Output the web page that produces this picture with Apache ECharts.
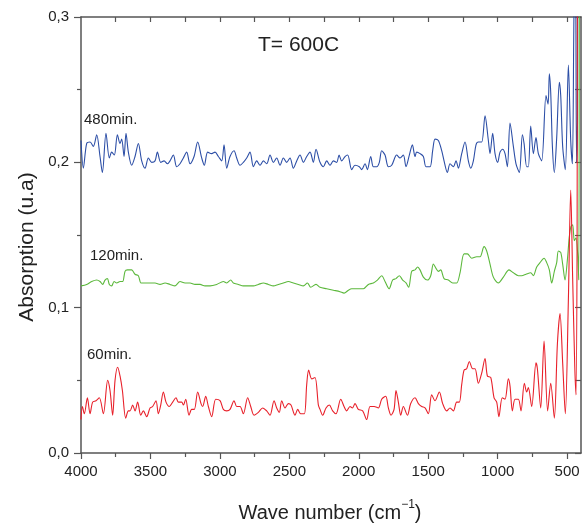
<!DOCTYPE html>
<html><head><meta charset="utf-8">
<script src="https://cdn.jsdelivr.net/npm/echarts@6/dist/echarts.min.js"></script>
<style>html,body{margin:0;padding:0;background:#fff}#c{width:588px;height:524px}</style>
</head><body><div id="c"></div>
<script>
// ---- data (wave number cm^-1, absorption u.a) ----
const seriesNames = ['480min.', '120min.', '60min.'];
const xTickLabels = [500, 1000, 1500, 2000, 2500, 3000, 3500, 4000];
const xMinorTicks = [750, 1250, 1750, 2250, 2750, 3250, 3750];
const yTickLabels = [0, 0.1, 0.2, 0.3];

const blue480 = [[4000,0.215],[3983,0.196],[3959,0.213],[3935,0.214],[3911,0.211],[3887,0.219],[3863,0.204],[3846,0.193],[3820,0.220],[3796,0.203],[3779,0.207],[3760,0.205],[3738,0.219],[3719,0.213],[3707,0.216],[3690,0.204],[3676,0.220],[3659,0.207],[3635,0.198],[3611,0.204],[3587,0.213],[3563,0.201],[3539,0.196],[3515,0.203],[3491,0.200],[3467,0.201],[3450,0.207],[3426,0.200],[3402,0.201],[3378,0.199],[3359,0.201],[3335,0.205],[3311,0.197],[3287,0.199],[3263,0.203],[3239,0.207],[3215,0.199],[3186,0.204],[3160,0.214],[3131,0.203],[3112,0.198],[3088,0.207],[3059,0.206],[3035,0.207],[3011,0.204],[2987,0.201],[2970,0.212],[2951,0.196],[2927,0.204],[2898,0.208],[2879,0.203],[2855,0.198],[2831,0.200],[2807,0.203],[2783,0.207],[2759,0.197],[2735,0.201],[2711,0.198],[2687,0.201],[2663,0.199],[2639,0.205],[2615,0.200],[2591,0.203],[2567,0.198],[2543,0.203],[2519,0.200],[2495,0.203],[2471,0.196],[2447,0.201],[2423,0.205],[2399,0.200],[2375,0.204],[2351,0.207],[2327,0.200],[2308,0.209],
[2279,0.200],[2255,0.197],[2231,0.201],[2207,0.198],[2183,0.201],[2159,0.200],[2142,0.205],[2123,0.201],[2099,0.204],[2080,0.205],[2051,0.195],[2027,0.198],[1996,0.197],[1979,0.195],[1955,0.199],[1938,0.195],[1914,0.204],[1895,0.197],[1871,0.197],[1852,0.200],[1835,0.208],[1811,0.205],[1787,0.197],[1763,0.198],[1727,0.205],[1703,0.203],[1679,0.205],[1660,0.197],[1636,0.205],[1614,0.212],[1595,0.204],[1583,0.207],[1559,0.206],[1535,0.204],[1516,0.197],[1487,0.197],[1468,0.208],[1451,0.216],[1427,0.215],[1403,0.208],[1386,0.201],[1362,0.193],[1343,0.199],[1319,0.197],[1300,0.201],[1283,0.196],[1259,0.206],[1235,0.214],[1211,0.201],[1194,0.196],[1175,0.201],[1156,0.212],[1139,0.214],[1115,0.214],[1091,0.232],[1067,0.215],[1055,0.206],[1036,0.220],[1019,0.206],[1000,0.200],[983,0.207],[964,0.209],[947,0.206],[930,0.197],[911,0.227],[887,0.211],[868,0.199],[844,0.193],[822,0.219],[810,0.213],[791,0.197],[779,0.197],[762,0.225],[743,0.206],[724,0.217],[707,0.206],[683,0.201],[652,0.246],[637,0.240],[628,0.261],[618,0.248],[606,0.211],[592,0.193],[575,0.217],[556,0.255],[546,0.246],[532,0.211],[513,0.195],[491,0.267],[474,0.215],[462,0.199],[452,0.290],[445,0.350],[438,0.320],[432,0.200],[425,0.230],[418,0.500],[400,0.500]];

const green120 = [[4000,0.115],[3959,0.116],[3923,0.118],[3887,0.119],[3863,0.118],[3844,0.116],[3827,0.119],[3810,0.120],[3796,0.116],[3779,0.115],[3762,0.118],[3743,0.117],[3719,0.118],[3700,0.118],[3683,0.125],[3666,0.126],[3635,0.126],[3611,0.123],[3587,0.122],[3568,0.117],[3539,0.117],[3503,0.117],[3467,0.117],[3431,0.116],[3395,0.117],[3359,0.116],[3323,0.115],[3287,0.118],[3251,0.117],[3215,0.117],[3179,0.116],[3143,0.116],[3107,0.115],[3071,0.115],[3023,0.116],[2975,0.118],[2951,0.117],[2922,0.119],[2903,0.117],[2867,0.116],[2831,0.115],[2795,0.115],[2759,0.115],[2723,0.116],[2687,0.117],[2651,0.116],[2615,0.115],[2579,0.116],[2543,0.117],[2507,0.118],[2471,0.117],[2435,0.116],[2399,0.115],[2370,0.117],[2346,0.114],[2308,0.116],
[2279,0.114],[2231,0.113],[2183,0.112],[2135,0.111],[2106,0.110],[2075,0.112],[2051,0.113],[2015,0.113],[1967,0.113],[1931,0.116],[1895,0.117],[1866,0.119],[1835,0.122],[1811,0.118],[1782,0.113],[1756,0.119],[1732,0.120],[1708,0.122],[1684,0.119],[1660,0.117],[1641,0.114],[1619,0.125],[1595,0.126],[1576,0.128],[1559,0.126],[1535,0.121],[1506,0.119],[1482,0.122],[1463,0.130],[1444,0.127],[1427,0.125],[1410,0.126],[1386,0.120],[1355,0.119],[1324,0.117],[1295,0.117],[1271,0.124],[1242,0.137],[1218,0.137],[1187,0.134],[1151,0.135],[1127,0.135],[1098,0.142],[1079,0.139],[1055,0.130],[1031,0.121],[995,0.117],[959,0.121],[918,0.126],[887,0.124],[851,0.122],[827,0.122],[796,0.123],[762,0.124],[743,0.122],[719,0.128],[695,0.131],[666,0.134],[647,0.131],[628,0.126],[611,0.117],[592,0.125],[575,0.131],[563,0.139],[546,0.138],[532,0.130],[515,0.119],[498,0.133],[484,0.149],[472,0.156],[460,0.157],[448,0.146],[436,0.148],[424,0.137],[416,0.119],[408,0.500],[400,0.500]];

const red60 = [[4000,0.023],[3990,0.032],[3976,0.027],[3954,0.038],[3935,0.027],[3916,0.035],[3892,0.036],[3868,0.038],[3839,0.027],[3808,0.050],[3791,0.043],[3772,0.026],[3755,0.050],[3736,0.059],[3719,0.053],[3702,0.043],[3678,0.024],[3659,0.029],[3647,0.029],[3628,0.033],[3611,0.029],[3592,0.035],[3570,0.026],[3551,0.029],[3527,0.025],[3503,0.031],[3484,0.032],[3460,0.036],[3443,0.027],[3426,0.033],[3407,0.042],[3388,0.035],[3364,0.032],[3340,0.035],[3316,0.038],[3299,0.035],[3275,0.035],[3263,0.033],[3246,0.037],[3222,0.026],[3203,0.030],[3184,0.030],[3160,0.042],[3136,0.034],[3124,0.032],[3102,0.039],[3083,0.032],[3059,0.025],[3030,0.037],[2999,0.036],[2975,0.030],[2951,0.029],[2927,0.030],[2898,0.036],[2879,0.032],[2855,0.032],[2831,0.027],[2800,0.038],[2778,0.032],[2754,0.026],[2723,0.028],[2692,0.031],[2663,0.029],[2639,0.026],[2610,0.036],[2591,0.031],[2572,0.028],[2555,0.036],[2531,0.031],[2507,0.034],[2488,0.033],[2459,0.026],[2440,0.030],[2418,0.027],[2392,0.027],[2375,0.047],[2361,0.057],[2339,0.051],[2315,0.052],[2291,0.033],
[2279,0.030],[2260,0.026],[2236,0.031],[2212,0.033],[2188,0.029],[2164,0.027],[2130,0.037],[2106,0.032],[2087,0.029],[2063,0.032],[2046,0.031],[2027,0.034],[2003,0.030],[1972,0.029],[1943,0.023],[1919,0.032],[1890,0.032],[1859,0.031],[1835,0.037],[1806,0.039],[1787,0.031],[1768,0.026],[1746,0.030],[1732,0.043],[1715,0.035],[1698,0.026],[1679,0.032],[1650,0.026],[1626,0.034],[1595,0.038],[1571,0.034],[1547,0.032],[1523,0.031],[1499,0.027],[1475,0.040],[1451,0.036],[1420,0.042],[1396,0.034],[1367,0.029],[1343,0.031],[1319,0.029],[1295,0.035],[1276,0.035],[1259,0.047],[1242,0.057],[1223,0.058],[1204,0.063],[1180,0.058],[1163,0.058],[1139,0.048],[1115,0.055],[1091,0.065],[1074,0.053],[1050,0.052],[1026,0.038],[1007,0.035],[991,0.025],[967,0.038],[947,0.037],[923,0.051],[911,0.046],[894,0.029],[875,0.037],[851,0.037],[832,0.029],[808,0.048],[791,0.042],[779,0.045],[755,0.032],[724,0.062],[714,0.058],[690,0.031],[666,0.077],[640,0.029],[618,0.048],[592,0.024],[570,0.075],[551,0.096],[532,0.062],[513,0.027],[491,0.105],[474,0.181],[460,0.120],[445,0.060],[436,0.040],[428,0.150],[420,0.500],[400,0.500]];

// ---- chart ----
const FONT = '"Liberation Sans", Arial, sans-serif';
const AX = '#555';
const chart = echarts.init(document.getElementById('c'), null, {renderer: 'canvas'});
const xBase = {type: 'value', min: 400, max: 4000, inverse: true, splitLine: {show: false}};
const yBase = {type: 'value', min: 0, max: 0.3, splitLine: {show: false}};
chart.setOption({
  animation: false,
  backgroundColor: '#fff',
  grid: {left: 81, top: 17, right: 7, bottom: 71, containLabel: false},
  xAxis: [
    Object.assign({}, xBase, {
      position: 'bottom',
      axisLine: {show: true, lineStyle: {color: AX, width: 1.5}},
      axisTick: {show: true, customValues: xTickLabels, length: 6, lineStyle: {color: AX, width: 1.2}},
      axisLabel: {show: true, customValues: xTickLabels, margin: 11, fontSize: 15, color: '#222', fontFamily: FONT,
        formatter: v => String(Math.round(v))}
    }),
    Object.assign({}, xBase, {
      position: 'bottom',
      axisLine: {show: false},
      axisTick: {show: true, customValues: xMinorTicks, length: 4, lineStyle: {color: AX, width: 1.2}},
      axisLabel: {show: false}
    }),
    Object.assign({}, xBase, {
      position: 'top',
      axisLine: {show: true, lineStyle: {color: AX, width: 1.5}},
      axisTick: {show: true, inside: true, customValues: xMinorTicks.concat(xTickLabels.slice(0, 7)), length: 5, lineStyle: {color: AX, width: 1.2}},
      axisLabel: {show: false}
    })
  ],
  yAxis: [
    Object.assign({}, yBase, {
      position: 'left', interval: 0.1,
      axisLine: {show: true, lineStyle: {color: AX, width: 1.5}},
      axisTick: {show: true, length: 7, lineStyle: {color: AX, width: 1.2}},
      minorTick: {show: true, splitNumber: 2, length: 4, lineStyle: {color: AX, width: 1.2}},
      axisLabel: {show: true, margin: 12, fontSize: 15, color: '#222', fontFamily: FONT,
        customValues: yTickLabels,
        formatter: v => v.toFixed(1).replace('.', ',')}
    }),
    Object.assign({}, yBase, {
      position: 'right', interval: 0.05,
      axisLine: {show: true, lineStyle: {color: AX, width: 1.5}},
      axisTick: {show: true, inside: true, length: 6, lineStyle: {color: AX, width: 1.2}},
      axisLabel: {show: false}
    })
  ],
  series: [
    {name: seriesNames[0], type: 'line', data: blue480, showSymbol: false, smooth: 0.3, clip: true,
      lineStyle: {color: '#2c4ea6', width: 1.1}},
    {name: seriesNames[1], type: 'line', data: green120, showSymbol: false, smooth: 0.3, clip: true,
      lineStyle: {color: '#5cb83c', width: 1.1}},
    {name: seriesNames[2], type: 'line', data: red60, showSymbol: false, smooth: 0.3, clip: true,
      lineStyle: {color: '#e8202a', width: 1.1}}
  ],
  graphic: [
    {type: 'text', x: 84, y: 120, style: {text: seriesNames[0], font: '15px ' + FONT, fill: '#222', verticalAlign: 'middle'}},
    {type: 'text', x: 90, y: 256, style: {text: seriesNames[1], font: '15px ' + FONT, fill: '#222', verticalAlign: 'middle'}},
    {type: 'text', x: 87, y: 355, style: {text: seriesNames[2], font: '15px ' + FONT, fill: '#222', verticalAlign: 'middle'}},
    {type: 'text', x: 258, y: 45, style: {text: 'T= 600C', font: '21px ' + FONT, fill: '#222', verticalAlign: 'middle'}},
    {type: 'text', x: 27, y: 247, rotation: Math.PI / 2,
      style: {text: 'Absorption (u.a)', font: '21px ' + FONT, fill: '#222', align: 'center', verticalAlign: 'middle'}},
    {type: 'text', x: 330, y: 511,
      style: {text: '{a|Wave number (cm}{s|−1}{a|)}', align: 'center', verticalAlign: 'middle', fill: '#222',
        rich: {
          a: {fontSize: 20, fontFamily: FONT, fill: '#222', lineHeight: 24, verticalAlign: 'bottom'},
          s: {fontSize: 12, fontFamily: FONT, fill: '#222', lineHeight: 24, verticalAlign: 'top', padding: [0, 0, 10, 0]}
        }}}
  ]
});
</script>
</body></html>
